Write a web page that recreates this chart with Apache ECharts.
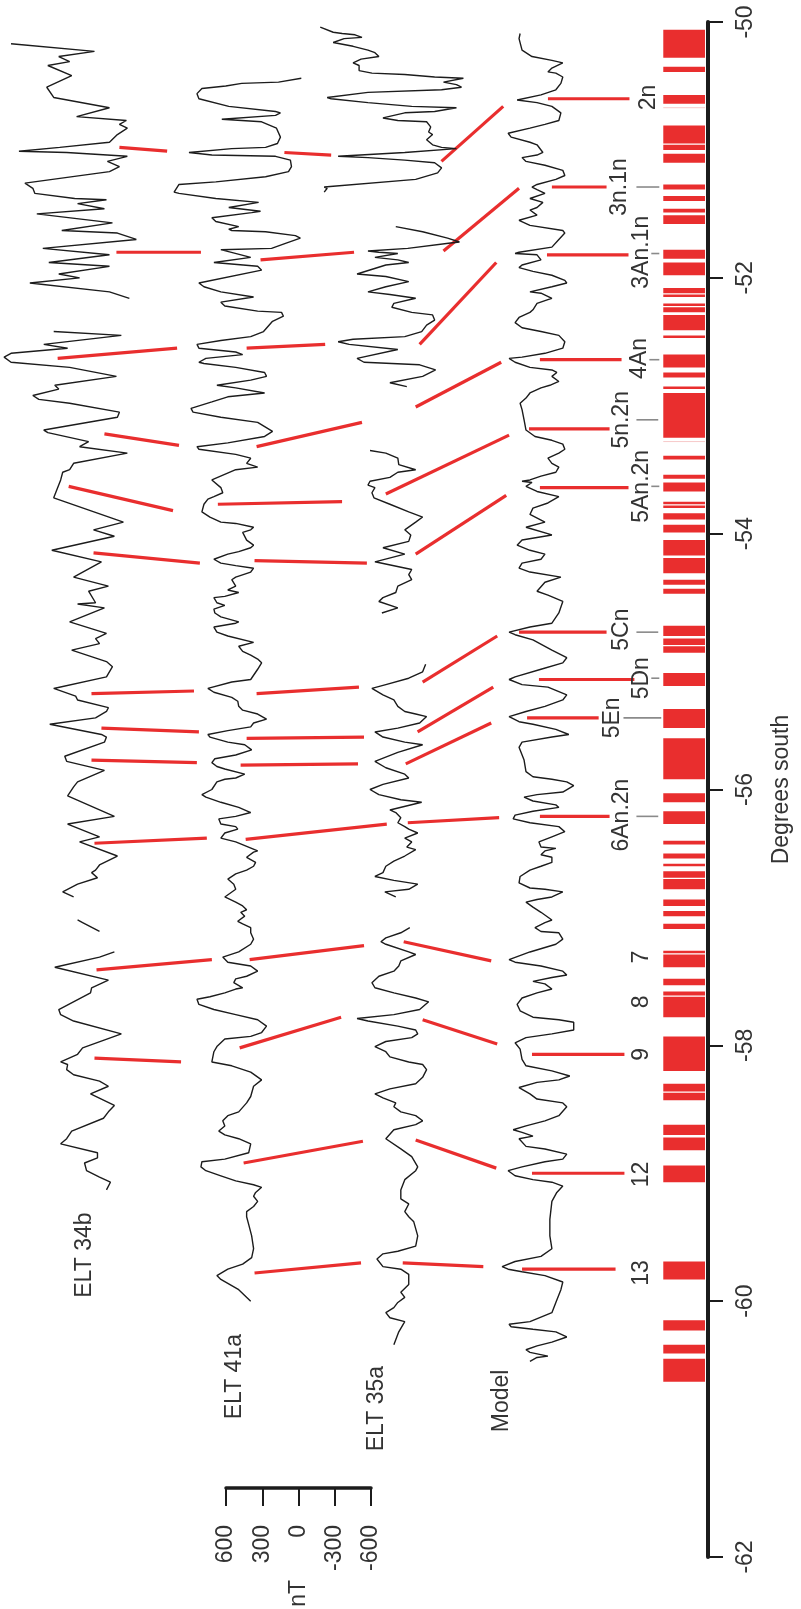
<!DOCTYPE html>
<html><head><meta charset="utf-8">
<script src="https://cdn.jsdelivr.net/npm/echarts@6/dist/echarts.min.js"></script>
<style>html,body{margin:0;padding:0;background:#fff}#chart{width:801px;height:1609px}</style>
</head><body><div id="chart"></div>
<script>
// ---------- DATA ----------
// Latitude axis (degrees south)
const latMin = -62, latMax = -50, latStep = 2;
// Scale bar (nT)
const ntMin = -600, ntMax = 600, ntStep = 300;

// Normal-polarity chron blocks [lat top, lat bottom]
const chronBlocks = [
 [-50.06,-50.28],[-50.35,-50.39],[-50.57,-50.64],[-50.81,-50.95],[-50.96,-51.00],[-51.03,-51.10],
 [-51.27,-51.31],[-51.36,-51.40],[-51.46,-51.49],[-51.51,-51.58],[-51.78,-51.85],[-51.88,-51.98],
 [-52.08,-52.12],[-52.13,-52.15],[-52.20,-52.22],[-52.23,-52.27],[-52.29,-52.41],[-52.45,-52.47],
 [-52.60,-52.70],[-52.74,-52.78],[-52.85,-52.87],[-52.90,-53.25],[-53.39,-53.42],[-53.54,-53.57],
 [-53.60,-53.67],[-53.75,-53.77],[-53.78,-53.80],[-53.84,-53.89],[-53.93,-53.99],[-54.05,-54.17],
 [-54.19,-54.31],[-54.36,-54.40],[-54.43,-54.47],[-54.72,-54.80],[-54.82,-54.87],[-54.88,-54.93],
 [-55.09,-55.19],[-55.37,-55.52],[-55.60,-55.92],[-56.03,-56.10],[-56.17,-56.27],[-56.40,-56.43],
 [-56.50,-56.54],[-56.58,-56.60],[-56.64,-56.69],[-56.70,-56.78],[-56.86,-56.91],[-56.95,-56.99],
 [-57.05,-57.09],[-57.26,-57.28],[-57.29,-57.39],[-57.48,-57.53],[-57.58,-57.61],[-57.62,-57.78],
 [-57.93,-58.20],[-58.30,-58.36],[-58.37,-58.43],[-58.62,-58.70],[-58.72,-58.82],[-58.94,-59.07],
 [-59.69,-59.83],[-60.15,-60.23],[-60.34,-60.41],[-60.45,-60.63]
];
const faintChrons = [-50.67, -53.28];

// Magnetic anomaly profiles: segments of [lat, nT]
const elt34b = [
 [[-50.17,572],[-50.23,-124],[-50.27,174],[-50.31,83],[-50.34,265],[-50.42,66],[-50.51,274],[-50.59,216],[-50.67,-249],[-50.74,25],[-50.77,-390],[-50.80,-332],[-50.83,-398],[-50.88,-315],[-50.94,-249],[-50.98,166],[-51.01,506],[-51.02,108],[-51.05,-398],[-51.09,-232],[-51.13,-332],[-51.17,-249],[-51.26,456],[-51.30,390],[-51.34,373],[-51.38,41],[-51.39,-224],[-51.42,17],[-51.46,-207],[-51.50,357],[-51.57,-274],[-51.63,149],[-51.65,-315],[-51.70,-473],[-51.77,307],[-51.82,-249],[-51.88,257],[-51.91,-249],[-51.97,174],[-52.00,0],[-52.04,415],[-52.11,-249],[-52.16,-415]],
 [[-52.42,216],[-52.45,-348],[-52.52,299],[-52.55,100],[-52.59,572],[-52.62,630],[-52.66,572],[-52.70,83],[-52.77,-307],[-52.84,207],[-52.87,174],[-52.92,390],[-52.95,340],[-52.98,83],[-53.05,-332],[-53.09,-315],[-53.19,299],[-53.21,265],[-53.28,-75],[-53.32,0],[-53.37,-398],[-53.45,50],[-53.50,83],[-53.52,141],[-53.58,158],[-53.72,216],[-53.91,-365],[-53.97,-116],[-54.02,-290],[-54.13,232],[-54.22,-182],[-54.34,50],[-54.41,-240],[-54.45,-75],[-54.54,-133],[-54.55,17],[-54.58,-207],[-54.69,83],[-54.78,-224],[-54.82,-133],[-54.86,-166],[-54.91,66],[-55.00,-224],[-55.04,-274],[-55.12,-224],[-55.21,216],[-55.27,33],[-55.30,17],[-55.36,-240],[-55.39,-224],[-55.44,-133],[-55.49,249],[-55.57,-182],[-55.59,-224],[-55.63,-207],[-55.74,124],[-55.78,108],[-55.85,-207],[-55.94,17],[-55.98,50],[-56.05,100],[-56.21,-290],[-56.27,100],[-56.37,-166],[-56.41,0],[-56.52,-315],[-56.59,-166],[-56.63,-133],[-56.65,-100],[-56.69,-149],[-56.74,17],[-56.80,141],[-56.84,50]],
 [[-57.02,17],[-57.04,-25],[-57.11,-166]],
 [[-57.27,-290],[-57.31,-166],[-57.39,207],[-57.49,-240],[-57.55,-100],[-57.59,-91],[-57.72,174],[-57.76,158],[-57.81,50],[-57.91,-348],[-58.02,-25],[-58.07,17],[-58.13,158],[-58.15,100],[-58.19,108],[-58.23,50],[-58.28,-166],[-58.32,-240],[-58.38,-91],[-58.47,-290],[-58.52,-240],[-58.57,-199],[-58.67,66],[-58.73,108],[-58.77,158],[-58.84,-149],[-58.88,-149],[-58.92,-41],[-58.98,-58],[-59.03,-166],[-59.07,-257],[-59.13,-224]]
];

const elt41a = [
 [[-50.44,-522],[-50.47,-332],[-50.48,-25],[-50.50,108],[-50.52,307],[-50.56,348],[-50.60,332],[-50.66,83],[-50.70,-307],[-50.71,-348],[-50.73,-307],[-50.76,141],[-50.78,-191],[-50.83,-315],[-50.90,-348],[-50.95,-323],[-50.98,-224],[-50.99,58],[-51.02,415],[-51.04,224],[-51.05,-307],[-51.08,-431],[-51.13,-440],[-51.17,-415],[-51.21,-224],[-51.25,191],[-51.27,498],[-51.33,539],[-51.34,498],[-51.38,191],[-51.41,-166],[-51.45,83],[-51.48,-182],[-51.49,-108],[-51.53,224],[-51.56,191],[-51.60,0],[-51.62,83],[-51.63,58],[-51.64,-224],[-51.67,-473],[-51.69,-514],[-51.73,-390],[-51.77,-274],[-51.78,149],[-51.84,-100],[-51.88,207],[-51.91,-158],[-51.94,-191],[-52.04,332],[-52.07,290],[-52.11,149],[-52.15,-124],[-52.19,149],[-52.22,116],[-52.26,-158],[-52.27,-357],[-52.30,-373],[-52.34,-282],[-52.42,-207],[-52.46,-100],[-52.49,149],[-52.52,348],[-52.55,332],[-52.58,25],[-52.60,-33],[-52.63,274],[-52.66,332],[-52.67,290],[-52.70,25],[-52.74,-216],[-52.77,-232],[-52.80,-100],[-52.84,182],[-52.86,25],[-52.90,-216],[-52.93,91],[-52.97,224],[-53.02,398],[-53.05,381],[-53.09,149],[-53.13,-158],[-53.20,-282],[-53.24,-216],[-53.29,91],[-53.32,348],[-53.34,332],[-53.38,25],[-53.41,-100],[-53.45,-66],[-53.48,-158],[-53.50,25],[-53.58,224],[-53.64,149],[-53.68,133],[-53.71,207],[-53.73,257],[-53.77,290],[-53.83,307],[-53.87,240],[-53.91,149],[-53.92,25],[-53.95,-124],[-53.97,-100],[-53.99,-33],[-54.05,-66],[-54.09,-124],[-54.11,-100],[-54.14,0],[-54.16,91],[-54.20,207],[-54.23,149],[-54.25,25],[-54.27,-124],[-54.30,-100],[-54.34,25],[-54.36,58],[-54.41,25],[-54.44,91],[-54.46,0],[-54.49,116],[-54.50,207],[-54.54,182],[-54.56,116],[-54.59,207],[-54.62,199],[-54.65,149],[-54.69,0],[-54.70,25],[-54.73,207],[-54.77,182],[-54.80,91],[-54.85,-124],[-54.88,0],[-54.92,-33],[-54.95,-100],[-54.98,-158],[-55.01,-191],[-55.06,-158],[-55.14,-100],[-55.16,58],[-55.21,257],[-55.24,207],[-55.28,58],[-55.31,8],[-55.35,0],[-55.38,-33],[-55.41,-158],[-55.45,-232],[-55.48,-124],[-55.51,-100],[-55.54,91],[-55.57,257],[-55.59,240],[-55.63,91],[-55.65,-50],[-55.69,-108],[-55.73,25],[-55.76,199],[-55.79,224],[-55.82,182],[-55.84,116],[-55.88,-50],[-55.91,25],[-55.92,116],[-55.94,182],[-56.00,224],[-56.04,307],[-56.06,274],[-56.10,149],[-56.14,0],[-56.18,-100],[-56.21,25],[-56.23,166],[-56.27,149],[-56.29,25],[-56.31,8],[-56.34,116],[-56.38,149],[-56.41,25],[-56.48,-158],[-56.49,-124],[-56.53,-66],[-56.57,-141],[-56.60,-124],[-56.63,-66],[-56.66,25],[-56.70,91],[-56.74,41],[-56.78,25],[-56.84,116],[-56.88,25],[-56.91,-33],[-56.94,-66],[-56.96,-17],[-56.99,-50],[-57.03,8],[-57.05,-33],[-57.08,-100],[-57.12,-100],[-57.17,-124],[-57.21,-100],[-57.27,0],[-57.31,133],[-57.35,91],[-57.38,-100],[-57.42,-158],[-57.46,-66],[-57.48,25],[-57.51,41],[-57.55,-33],[-57.56,25],[-57.59,116],[-57.62,240],[-57.64,348],[-57.68,332],[-57.72,207],[-57.76,25],[-57.80,-158],[-57.85,-232],[-57.90,-191],[-57.93,-100],[-57.95,116],[-58.01,182],[-58.05,207],[-58.13,224],[-58.16,58],[-58.21,-100],[-58.27,-191],[-58.32,-124],[-58.40,-100],[-58.45,-66],[-58.52,0],[-58.55,91],[-58.59,133],[-58.63,116],[-58.67,166],[-58.70,116],[-58.73,0],[-58.77,-100],[-58.84,-83],[-58.89,116],[-58.91,307],[-58.95,315],[-58.98,274],[-59.02,149],[-59.06,25],[-59.09,-124],[-59.11,-191],[-59.15,-141],[-59.18,-124],[-59.22,-158],[-59.26,-124],[-59.30,-66],[-59.34,-66],[-59.40,-83],[-59.49,-108],[-59.59,-124],[-59.66,-108],[-59.71,-33],[-59.75,91],[-59.80,182],[-59.83,149],[-59.91,0],[-60.00,-100]]
];

const elt35a = [
 [[-50.04,647],[-50.08,539],[-50.09,464],[-50.10,357],[-50.12,299],[-50.13,448],[-50.16,539],[-50.17,539],[-50.19,373],[-50.22,249],[-50.24,191],[-50.27,158],[-50.29,307],[-50.32,373],[-50.34,323],[-50.38,323],[-50.40,216],[-50.41,-58],[-50.43,-307],[-50.44,-547],[-50.47,-381],[-50.49,-489],[-50.51,-531],[-50.53,-365],[-50.55,249],[-50.59,589],[-50.60,556],[-50.63,249],[-50.66,-116],[-50.67,-489],[-50.70,-307],[-50.71,-58],[-50.75,124],[-50.77,0],[-50.78,-240],[-50.82,-274],[-50.86,-257],[-50.88,-290],[-50.92,-240],[-50.96,-290],[-50.98,-365],[-50.99,-489],[-51.02,-58],[-51.05,498],[-51.06,249],[-51.08,-58],[-51.10,-307],[-51.14,-365],[-51.18,-332],[-51.23,-149],[-51.29,614],[-51.30,589],[-51.33,614]],
 [[-51.60,17],[-51.64,-207],[-51.69,-415],[-51.72,-514],[-51.73,-423],[-51.77,-83],[-51.79,249],[-51.80,158],[-51.81,0],[-51.84,191],[-51.86,0],[-51.88,-91],[-51.90,100],[-51.97,340],[-51.99,100],[-52.03,-91],[-52.07,100],[-52.11,249],[-52.13,66],[-52.16,-149],[-52.20,33],[-52.23,50],[-52.27,-116],[-52.29,-290],[-52.33,-307],[-52.37,-240],[-52.42,-199],[-52.46,-58],[-52.48,373],[-52.50,498],[-52.52,406],[-52.56,0],[-52.63,340],[-52.66,282],[-52.68,-182],[-52.72,-315],[-52.77,-207],[-52.82,66],[-52.85,-75]],
 [[-53.35,232],[-53.37,100],[-53.41,0],[-53.46,-8],[-53.50,-149],[-53.52,0],[-53.56,66],[-53.59,232],[-53.62,249],[-53.64,191],[-53.68,216],[-53.72,199],[-53.77,66],[-53.83,-91],[-53.87,-207],[-53.91,-149],[-53.97,-58],[-54.01,-108],[-54.06,-91],[-54.11,124],[-54.16,-58],[-54.22,191],[-54.28,-116],[-54.32,-91],[-54.36,-116],[-54.41,0],[-54.46,17],[-54.50,124],[-54.53,158],[-54.58,0],[-54.62,133]],
 [[-55.02,-232],[-55.08,-207],[-55.13,-91],[-55.18,100],[-55.21,216],[-55.26,124],[-55.30,33],[-55.35,0],[-55.39,-58],[-55.41,-149],[-55.43,-240],[-55.48,-182],[-55.52,0],[-55.55,191],[-55.59,124],[-55.63,-58],[-55.65,-207],[-55.71,0],[-55.78,191],[-55.83,100],[-55.88,-58],[-55.91,-91],[-55.96,124],[-56.00,232],[-56.04,158],[-56.08,-25],[-56.10,-199],[-56.16,66],[-56.18,17],[-56.22,-25],[-56.26,0],[-56.29,-58],[-56.31,-91],[-56.34,-166],[-56.38,-58],[-56.41,-116],[-56.45,-75],[-56.47,-149],[-56.52,-58],[-56.56,33],[-56.60,100],[-56.65,124],[-56.68,191],[-56.71,33],[-56.74,-166],[-56.78,-91],[-56.80,108],[-56.84,17]],
 [[-57.08,-100],[-57.12,-25],[-57.16,100],[-57.19,141],[-57.21,100],[-57.27,-91],[-57.29,-149],[-57.34,-25],[-57.38,-8],[-57.42,33],[-57.46,158],[-57.51,216],[-57.55,191],[-57.59,33],[-57.63,-149],[-57.66,-257],[-57.72,-182],[-57.76,33],[-57.79,340],[-57.81,249],[-57.85,0],[-57.88,-149],[-57.91,-166],[-57.94,-116],[-57.97,100],[-58.01,191],[-58.05,100],[-58.09,66],[-58.13,-91],[-58.15,-207],[-58.19,-240],[-58.25,-207],[-58.30,-149],[-58.34,66],[-58.38,191],[-58.41,124],[-58.45,17],[-58.48,33],[-58.52,-25],[-58.55,-149],[-58.59,-207],[-58.62,-149],[-58.66,33],[-58.73,100],[-58.81,-25],[-58.87,-116],[-58.95,-166],[-58.98,-149],[-59.05,-58],[-59.13,-25],[-59.20,-25],[-59.24,-91],[-59.30,-58],[-59.34,-91],[-59.38,-133],[-59.49,-166],[-59.57,-149],[-59.61,0],[-59.63,124],[-59.67,174],[-59.73,124],[-59.75,-25],[-59.79,-91],[-59.87,-91],[-59.93,-25],[-59.97,-58],[-60.01,0],[-60.05,33],[-60.09,100],[-60.13,66],[-60.16,-58],[-60.24,-8],[-60.34,33]]
];

const model = [
 [[-50.09,182],[-50.13,191],[-50.22,166],[-50.27,83],[-50.30,-83],[-50.32,-174],[-50.36,-83],[-50.39,-50],[-50.40,-116],[-50.43,-174],[-50.48,-158],[-50.53,-116],[-50.57,8],[-50.61,207],[-50.63,41],[-50.66,-83],[-50.71,-158],[-50.77,-141],[-50.80,-25],[-50.83,100],[-50.87,282],[-50.90,257],[-50.94,100],[-50.96,41],[-51.02,-8],[-51.04,41],[-51.06,166],[-51.09,133],[-51.12,-25],[-51.16,-174],[-51.20,-191],[-51.23,-116],[-51.27,41],[-51.29,83],[-51.31,41],[-51.34,-25],[-51.38,100],[-51.41,-8],[-51.45,41],[-51.47,100],[-51.51,41],[-51.55,191],[-51.56,207],[-51.59,100],[-51.63,-174],[-51.65,-191],[-51.70,-141],[-51.76,-83],[-51.80,191],[-51.81,224],[-51.82,41],[-51.86,8],[-51.90,166],[-51.92,191],[-51.95,75],[-51.98,-83],[-52.02,-191],[-52.04,-207],[-52.07,-83],[-52.11,100],[-52.12,8],[-52.16,-83],[-52.17,-50],[-52.20,41],[-52.25,75],[-52.27,100],[-52.31,191],[-52.35,224],[-52.39,166],[-52.42,8],[-52.45,-141],[-52.50,-191],[-52.55,-174],[-52.59,-25],[-52.62,166],[-52.63,274],[-52.66,224],[-52.70,100],[-52.72,-83],[-52.74,-124],[-52.77,-83],[-52.81,-141],[-52.84,-66],[-52.86,8],[-52.90,100],[-52.94,133],[-52.98,182],[-53.03,166],[-53.11,149],[-53.19,133],[-53.24,58],[-53.27,-83],[-53.30,-174],[-53.34,-191],[-53.37,-141],[-53.41,-50],[-53.45,-83],[-53.48,-141],[-53.52,-116],[-53.55,8],[-53.58,100],[-53.59,166],[-53.60,83],[-53.63,133],[-53.67,41],[-53.71,-141],[-53.76,-50],[-53.80,75],[-53.85,100],[-53.91,-25],[-53.95,133],[-54.01,-83],[-54.05,166],[-54.09,207],[-54.13,100],[-54.16,-25],[-54.20,8],[-54.23,166],[-54.27,191],[-54.30,100],[-54.34,-158],[-54.38,-25],[-54.45,41],[-54.48,-50],[-54.53,-174],[-54.62,-141],[-54.70,-83],[-54.73,100],[-54.77,274],[-54.79,224],[-54.83,75],[-54.91,-83],[-54.97,-207],[-55.01,-174],[-55.06,8],[-55.12,224],[-55.14,274],[-55.18,166],[-55.20,-50],[-55.26,-207],[-55.30,-174],[-55.35,-25],[-55.39,133],[-55.43,274],[-55.47,191],[-55.49,75],[-55.53,-116],[-55.57,-224],[-55.59,-83],[-55.63,166],[-55.67,191],[-55.77,149],[-55.86,133],[-55.90,75],[-55.92,-83],[-55.94,-207],[-55.97,-265],[-56.02,-174],[-56.04,41],[-56.06,149],[-56.09,75],[-56.12,-116],[-56.14,-141],[-56.17,75],[-56.20,224],[-56.23,240],[-56.26,100],[-56.29,-141],[-56.33,-191],[-56.37,-83],[-56.41,25],[-56.45,8],[-56.46,-116],[-56.48,-25],[-56.51,8],[-56.53,-83],[-56.57,-83],[-56.60,8],[-56.63,100],[-56.68,182],[-56.73,191],[-56.77,100],[-56.78,-25],[-56.80,-174],[-56.84,-83],[-56.86,41],[-56.88,133],[-56.92,75],[-56.96,8],[-57.02,-83],[-57.04,-25],[-57.08,58],[-57.11,8],[-57.12,-141],[-57.17,-174],[-57.21,-116],[-57.27,100],[-57.33,274],[-57.35,224],[-57.38,8],[-57.42,-174],[-57.45,-207],[-57.47,-83],[-57.50,75],[-57.52,-25],[-57.56,-83],[-57.59,41],[-57.63,166],[-57.68,207],[-57.73,182],[-57.78,75],[-57.80,-141],[-57.82,-265],[-57.88,-265],[-57.91,-83],[-57.94,133],[-57.98,224],[-58.03,182],[-58.11,166],[-58.16,133],[-58.20,-83],[-58.24,-232],[-58.27,-141],[-58.29,41],[-58.33,191],[-58.38,100],[-58.42,41],[-58.45,-174],[-58.48,-207],[-58.55,-141],[-58.59,-25],[-58.63,133],[-58.66,240],[-58.68,166],[-58.71,75],[-58.73,191],[-58.79,133],[-58.81,-25],[-58.85,-207],[-58.89,-174],[-58.91,-25],[-58.95,166],[-58.98,282],[-59.02,224],[-59.05,75],[-59.07,-83],[-59.10,-174],[-59.15,-124],[-59.22,-83],[-59.36,-66],[-59.49,-66],[-59.59,-83],[-59.65,8],[-59.69,224],[-59.73,332],[-59.75,282],[-59.77,166],[-59.80,-25],[-59.85,-174],[-59.91,-158],[-60.01,-116],[-60.09,-83],[-60.16,100],[-60.18,274],[-60.20,257],[-60.22,75],[-60.24,-116],[-60.28,-207],[-60.32,-83],[-60.35,41],[-60.38,133],[-60.40,100],[-60.43,-50],[-60.44,41],[-60.47,100]]
];

// Correlation ties [x1, lat1, x2, lat2] (x in stacked-profile nT units)
const tieLines = [
 [4909,-50.98,4511,-51.01],[3533,-51.02,3143,-51.04],[4934,-51.80,4229,-51.80],[3732,-51.86,2952,-51.80],
 [5424,-52.63,4428,-52.55],[3848,-52.55,3193,-52.52],[2223,-51.09,1708,-50.66],[2206,-51.79,1576,-51.30],
 [2405,-52.52,1766,-51.88],[2438,-53.01,1725,-52.66],[5034,-53.22,4412,-53.31],[3765,-53.32,2886,-53.13],
 [2687,-53.69,1659,-53.23],[5332,-53.63,4462,-53.82],[4088,-53.77,3052,-53.75],[2438,-54.16,1683,-53.70],
 [5125,-54.15,4238,-54.23],[3782,-54.21,2845,-54.23],[2380,-55.16,1758,-54.80],[5142,-55.25,4287,-55.23],
 [3765,-55.25,2911,-55.20],[2422,-55.55,1791,-55.20],[2521,-55.80,1808,-55.48],[5059,-55.52,4246,-55.55],
 [3848,-55.60,2869,-55.59],[5142,-55.77,4263,-55.79],[3898,-55.81,2919,-55.80],[2504,-56.26,1742,-56.22],
 [5117,-56.42,4180,-56.38],[3856,-56.39,2679,-56.27],[5100,-57.41,4138,-57.33],[3823,-57.33,2869,-57.22],
 [2538,-57.19,1808,-57.34],[3906,-58.02,3060,-57.78],[2380,-57.80,1758,-57.99],[5117,-58.10,4395,-58.13],
 [3873,-58.92,2878,-58.75],[2438,-58.74,1766,-58.96],[3782,-59.78,2894,-59.70],[2546,-59.70,1874,-59.73]
];
const chronTies = [
 [1335,-50.60,655,-50.60],[1302,-51.29,846,-51.29],[1343,-51.82,663,-51.82],[1402,-52.64,721,-52.64],
 [1493,-53.18,821,-53.18],[1402,-53.64,663,-53.64],[1576,-54.77,846,-54.77],[1410,-55.14,614,-55.14],
 [1509,-55.44,912,-55.44],[1402,-56.21,821,-56.21],[1468,-58.07,697,-58.07],[1468,-59.00,697,-59.00],
 [1551,-59.75,771,-59.75]
];
const labelTicks = [
 [597,-51.29,406,-51.29],[473,-51.81,406,-51.81],[489,-52.64,406,-52.64],[597,-53.11,415,-53.11],
 [473,-53.63,406,-53.63],[597,-54.77,415,-54.77],[473,-55.13,406,-55.13],[705,-55.44,390,-55.44],
 [597,-56.21,415,-56.21]
];
// Chron names and their label anchors [x, lat]
const chronNames = ['2n','3n.1n','3An.1n','4An','5n.2n','5An.2n','5Cn','5Dn','5En','6An.2n','7','8','9','12','13'];
const chronLabelPos = [[498,-50.59],[738,-51.29],[556,-51.80],[572,-52.63],[722,-53.11],[556,-53.63],[722,-54.75],[556,-55.13],[796,-55.44],[722,-56.20],[556,-57.31],[556,-57.66],[556,-58.07],[556,-59.01],[556,-59.78]];
const profileNames = ['ELT 34b','ELT 41a','ELT 35a','Model'];
const profileLabelPos = [[5200,-59.64],[3947,-60.59],[2762,-60.84],[1717,-60.78]];

// ---------- LAYOUT ----------
const PROFILE_OFFSET = [5241, 3914, 2587, 1385];
const BAR_X = [25, 373];
const X_MAX = 5905;
const RED = '#E92E2E', INK = '#1c1c1c', TEXT = '#333333';
const FONT = "'Liberation Sans', Arial, sans-serif";
const FS = 23;

const series = [];
series.push({
  type:'custom', xAxisIndex:0, yAxisIndex:0, silent:true, z:1, clip:false,
  data: chronBlocks,
  renderItem(params, api){
    const p1 = api.coord([BAR_X[1], api.value(0)]);
    const p2 = api.coord([BAR_X[0], api.value(1)]);
    return {type:'rect', shape:{x:p1[0], y:p1[1], width:p2[0]-p1[0], height:p2[1]-p1[1]}, style:{fill:RED}};
  }
});
series.push({
  type:'custom', xAxisIndex:0, yAxisIndex:0, silent:true, z:1,
  data: faintChrons.map(v=>[v]),
  renderItem(params, api){
    const p1 = api.coord([BAR_X[1], api.value(0)]);
    const p2 = api.coord([BAR_X[0], api.value(0)]);
    return {type:'line', shape:{x1:p1[0], y1:p1[1], x2:p2[0], y2:p2[1]}, style:{stroke:'#f7c9c9', lineWidth:1}};
  }
});
function segSeries(data, color, width, z){
  return {
    type:'custom', xAxisIndex:0, yAxisIndex:0, silent:true, z:z, clip:false,
    encode:{x:[0,2], y:[1,3]},
    data: data,
    renderItem(params, api){
      const p1 = api.coord([api.value(0), api.value(1)]);
      const p2 = api.coord([api.value(2), api.value(3)]);
      return {type:'line', shape:{x1:p1[0], y1:p1[1], x2:p2[0], y2:p2[1]}, style:{stroke:color, lineWidth:width}};
    }
  };
}
series.push(segSeries(tieLines, RED, 3.2, 2));
series.push(segSeries(chronTies, RED, 3.2, 2));
series.push(segSeries(labelTicks, '#8a8a8a', 1.6, 2));

[elt34b, elt41a, elt35a, model].forEach((segs, i) => {
  segs.forEach(seg => {
    series.push({
      type:'line', xAxisIndex:0, yAxisIndex:0, silent:true, z:3,
      showSymbol:false, symbol:'none',
      data: seg.map(p => [PROFILE_OFFSET[i] + p[1], p[0]]),
      lineStyle:{color:INK, width:1.4}
    });
  });
});

function labelSeries(names, pos){
  return {
    type:'custom', xAxisIndex:0, yAxisIndex:0, silent:true, z:5, clip:false,
    data: pos.map((p,i)=>[p[0], p[1], i]),
    renderItem(params, api){
      const c = api.coord([api.value(0), api.value(1)]);
      return {type:'text', x:c[0], y:c[1], rotation:Math.PI/2,
        style:{text:names[params.dataIndex], fontSize:FS, fontFamily:FONT, fill:TEXT,
               align:'center', verticalAlign:'middle', textAlign:'center', textVerticalAlign:'middle'}};
    }
  };
}
series.push(labelSeries(chronNames, chronLabelPos));
series.push(labelSeries(profileNames, profileLabelPos));

const option = {
  animation:false,
  backgroundColor:'#ffffff',
  textStyle:{fontFamily:FONT},
  grid:[
    {left:0, right:89, top:22, bottom:52, containLabel:false},
    {left:226, right:430, top:1486, height:2, containLabel:false}
  ],
  xAxis:[
    {type:'value', gridIndex:0, min:0, max:X_MAX, inverse:true, show:false},
    {type:'value', gridIndex:1, min:ntMin, max:ntMax, interval:ntStep, inverse:true, position:'bottom',
     axisLine:{show:true, onZero:false, lineStyle:{color:INK, width:3.5}},
     axisTick:{show:true, length:18, lineStyle:{color:INK, width:2}},
     axisLabel:{rotate:90, margin:37, fontSize:FS, color:TEXT, fontFamily:FONT},
     splitLine:{show:false},
     name:'nT', nameLocation:'middle', nameRotate:90, nameGap:92,
     nameTextStyle:{fontSize:FS, color:TEXT, fontFamily:FONT}}
  ],
  yAxis:[
    {type:'value', gridIndex:0, position:'right', min:latMin, max:latMax, interval:latStep,
     axisLine:{show:true, onZero:false, lineStyle:{color:INK, width:4}},
     axisTick:{show:true, length:15, lineStyle:{color:INK, width:2}},
     axisLabel:{rotate:90, margin:26, fontSize:FS, color:TEXT, fontFamily:FONT},
     splitLine:{show:false},
     name:'Degrees south', nameLocation:'middle', nameRotate:90, nameGap:62,
     nameTextStyle:{fontSize:FS, color:TEXT, fontFamily:FONT}},
    {type:'value', gridIndex:1, min:0, max:1, show:false}
  ],
  series: series
};
const chart = echarts.init(document.getElementById('chart'), null, {renderer:'canvas'});
chart.setOption(option);
</script></body></html>
